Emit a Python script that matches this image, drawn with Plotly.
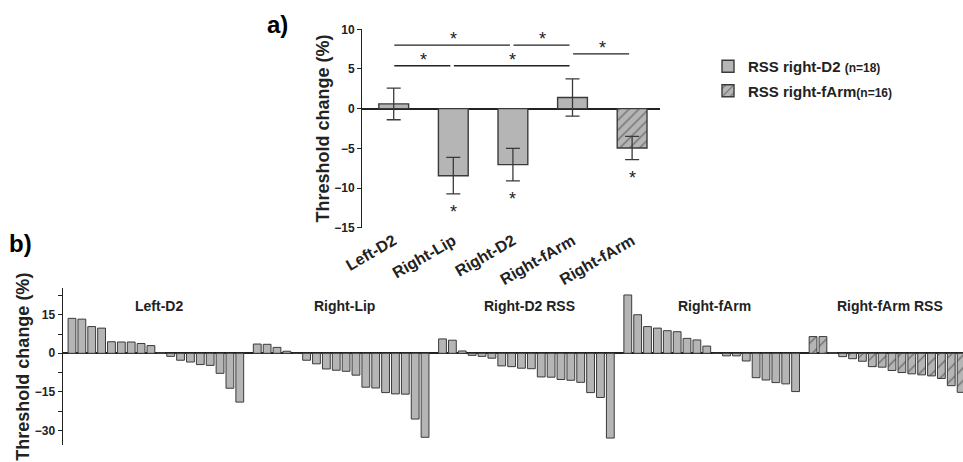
import plotly.graph_objects as go

# ---------------- Panel a data ----------------
a_labels = ["Left-D2", "Right-Lip", "Right-D2", "Right-fArm", "Right-fArm"]
a_means = [0.6, -8.45, -7.05, 1.4, -4.95]
a_sem = [2.0, 2.3, 2.05, 2.35, 1.47]
a_hatched = [False, False, False, False, True]
a_star_below = [1, 2, 4]                      # bars significantly different from 0
a_sig_pairs = [(0, 2, 8.0), (2, 3, 8.0), (3, 4, 6.9), (0, 1, 5.4), (1, 3, 5.4)]

legend_names = ["RSS right-D2 ", "RSS right-fArm"]
legend_n = ["(n=18)", "(n=16)"]

# ---------------- Panel b data ----------------
b_groups = ["Left-D2", "Right-Lip", "Right-D2 RSS", "Right-fArm", "Right-fArm RSS"]
left_d2 = [13.6, 13.3, 10.4, 9.8, 4.5, 4.4, 4.4, 3.8, 3.0, 0.3, -1.2, -2.7,
           -3.4, -4.4, -4.7, -7.8, -13.6, -19.0]
right_lip = [3.6, 3.5, 2.3, 0.8, 0.0, -2.7, -4.1, -6.1, -6.6, -7.0, -8.5, -13.2,
             -13.5, -15.3, -15.8, -15.9, -25.6, -32.7]
right_d2_rss = [5.6, 5.1, 0.9, -0.8, -1.2, -1.9, -4.9, -5.2, -5.8, -6.0, -9.2, -9.3,
                -10.2, -10.5, -11.3, -15.3, -17.2, -33.0]
right_farm = [22.7, 15.0, 10.4, 9.8, 8.8, 8.4, 5.8, 5.2, 2.8, 0.0, -1.0, -1.0,
              -3.0, -9.5, -10.4, -11.4, -11.9, -14.9]
right_farm_rss = [6.5, 6.5, 0.3, -1.3, -2.1, -3.1, -5.2, -5.4, -6.7, -7.5, -8.0,
                  -8.4, -8.8, -9.8, -12.6, -15.2]
b_values = [left_d2, right_lip, right_d2_rss, right_farm, right_farm_rss]
b_hatched = [False, False, False, False, True]

# ---------------- style ----------------
FONT = "Liberation Sans, Arial, sans-serif"
GRAY = "#b5b5b5"
EDGE = "#3a3a3a"
DARK = "#222222"
GROUP_STRIDE = 18.77

fig = go.Figure()

# Panel a bars: plain and hatched as two traces (for the legend)
for k, hatched in enumerate([False, True]):
    idx = [i for i in range(len(a_labels)) if a_hatched[i] == hatched]
    fig.add_trace(go.Bar(
        x=idx, y=[a_means[i] for i in idx],
        width=0.5,
        error_y=dict(type="data", array=[a_sem[i] for i in idx], visible=True,
                     color=EDGE, thickness=1.3, width=7),
        marker=dict(color=GRAY, line=dict(color=EDGE, width=1.4),
                    pattern=dict(shape="/" if hatched else "", fgcolor=DARK,
                                 bgcolor=GRAY, size=7, solidity=0.18)),
        name="<b>%s<span style='font-size:12px'>%s</span></b>" % (legend_names[k], legend_n[k]),
        legendgroup="g%d" % k,
        xaxis="x", yaxis="y",
    ))

# Panel b bars
for g, vals in enumerate(b_values):
    xs = [g * GROUP_STRIDE + i for i in range(len(vals))]
    fig.add_trace(go.Bar(
        x=xs, y=vals, width=0.79, showlegend=False,
        marker=dict(color=GRAY, line=dict(color=EDGE, width=1),
                    pattern=dict(shape="/" if b_hatched[g] else "", fgcolor=DARK,
                                 bgcolor=GRAY, size=9, solidity=0.15)),
        xaxis="x2", yaxis="y2",
    ))

annotations = []
shapes = []

# significance brackets in panel a
for (i, j, lvl) in a_sig_pairs:
    shapes.append(dict(type="line", xref="x", yref="y", x0=i + 0.01, x1=j - 0.05,
                       y0=lvl, y1=lvl, line=dict(color=DARK, width=1.4)))
    annotations.append(dict(xref="x", yref="y", x=(i + j) / 2, y=lvl, yanchor="bottom",
                            text="*", showarrow=False, yshift=-6,
                            font=dict(family=FONT, size=18, color=DARK)))
for i in a_star_below:
    annotations.append(dict(xref="x", yref="y", x=i, y=a_means[i] - a_sem[i],
                            yanchor="top", text="*", showarrow=False, yshift=-6,
                            font=dict(family=FONT, size=18, color=DARK)))

# group titles in panel b
for g, name in enumerate(b_groups):
    n = len(b_values[g])
    cx = g * GROUP_STRIDE + (n - 1) / 2 + 0.3
    annotations.append(dict(xref="x2", yref="paper", x=cx, y=1 - 306 / 462,
                            xanchor="center", yanchor="middle",
                            text="<b>%s</b>" % name, showarrow=False,
                            font=dict(family=FONT, size=14, color=DARK)))

# panel letters
annotations.append(dict(xref="paper", yref="paper", x=277 / 963, y=1 - 24 / 462,
                        xanchor="center", yanchor="middle",
                        text="<b>a)</b>", showarrow=False,
                        font=dict(family=FONT, size=24, color="#000")))
annotations.append(dict(xref="paper", yref="paper", x=20 / 963, y=1 - 243 / 462,
                        xanchor="center", yanchor="middle",
                        text="<b>b)</b>", showarrow=False,
                        font=dict(family=FONT, size=24, color="#000")))

fig.update_layout(
    width=963, height=462,
    margin=dict(l=0, r=0, t=0, b=0),
    paper_bgcolor="white", plot_bgcolor="white",
    barmode="overlay",
    font=dict(family=FONT, color=DARK),
    xaxis=dict(domain=[362.3 / 963, 660 / 963], range=[-0.527, 4.468],
               tickmode="array", tickvals=list(range(len(a_labels))), ticktext=a_labels,
               tickangle=-30, showline=False, ticks="", showgrid=False, zeroline=False,
               tickfont=dict(family=FONT, size=16, color=DARK, weight="bold"), anchor="y",
               automargin=False),
    yaxis=dict(domain=[1 - 227.7 / 462, 1 - 29.3 / 462], range=[-15, 10], dtick=5,
               ticks="outside", ticklen=4, tickwidth=1.4, tickcolor=DARK,
               showline=True, linecolor=DARK, linewidth=1.4, showgrid=False,
               zeroline=True, zerolinecolor=DARK, zerolinewidth=1.5,
               tickfont=dict(family=FONT, size=12, color=DARK, weight="bold"),
               title=dict(text="<b>Threshold change (%)</b>", standoff=0,
                          font=dict(family=FONT, size=18, color=DARK)),
               anchor="x", automargin=False),
    xaxis2=dict(domain=[62.7 / 963, 1.0], range=[-0.94, 90.27], visible=False,
                anchor="y2"),
    yaxis2=dict(domain=[1 - 445 / 462, 1 - 288.3 / 462], range=[-35.7, 25.3],
                tick0=0, dtick=15, ticks="outside", ticklen=4, tickwidth=1.2,
                tickcolor=DARK, minor=dict(dtick=7.5, tick0=0, ticks="outside",
                                           ticklen=4, tickcolor=DARK, tickwidth=1.2),
                showline=True, linecolor=DARK, linewidth=1.2, showgrid=False,
                zeroline=True, zerolinecolor=DARK, zerolinewidth=1.5,
                tickfont=dict(family=FONT, size=12, color=DARK, weight="bold"),
                title=dict(text="<b>Threshold change (%)</b>", standoff=0,
                           font=dict(family=FONT, size=18, color=DARK)),
                anchor="x2", automargin=False),
    legend=dict(x=708 / 963, y=1 - 50 / 462, xanchor="left", yanchor="top",
                bgcolor="rgba(0,0,0,0)", tracegroupgap=2,
                font=dict(family=FONT, size=15, color=DARK)),
    annotations=annotations,
    shapes=shapes,
)

fig.write_html("out.html", config={"displayModeBar": False},
               post_script="document.body.style.margin='0';document.body.style.overflow='hidden';")
